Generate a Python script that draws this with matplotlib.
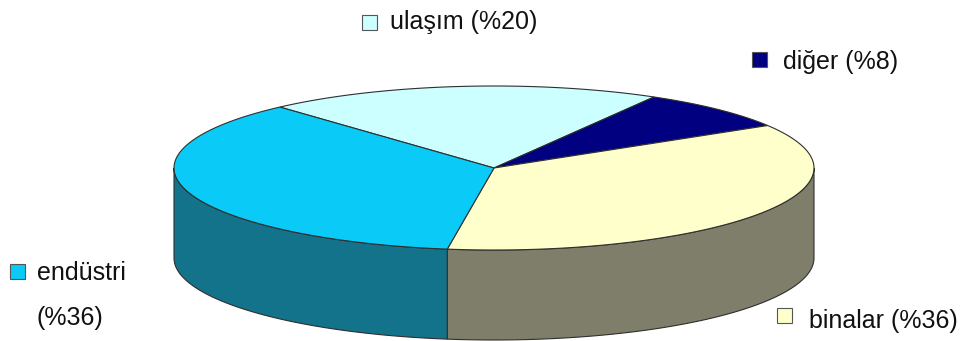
import numpy as np
import matplotlib
matplotlib.use('Agg')
import matplotlib.pyplot as plt
from matplotlib.patches import Polygon, Rectangle

# dados do grafico
rotulos = ['ulaşım', 'diğer', 'binalar', 'endüstri']
valores = [20, 8, 36, 36]
cores_topo = ['#CCFFFF', '#000080', '#FFFFCC', '#0ACBF8']
cores_lado = ['#6FA3A8', '#00004A', '#7E7E6B', '#12738A']

# geometria do pie 3d (pixels)
cx, cy = 494, 168
rx, ry = 320, 82
prof = 90
inicio = 132
borda = '#2f2f2f'

fig = plt.figure(figsize=(9.68, 3.41), dpi=100)
ax = fig.add_axes([0, 0, 1, 1])
ax.set_xlim(0, 968)
ax.set_ylim(341, 0)
ax.axis('off')


def ponto(t, dy=0):
    r = np.radians(t)
    return cx + rx * np.cos(r), cy - ry * np.sin(r) + dy


def arco(a, b, dy=0, n=120):
    ts = np.linspace(a, b, n)
    return [ponto(t, dy) for t in ts]


# angulos das fatias (sentido horario)
angulos = [inicio]
for v in valores:
    angulos.append(angulos[-1] - 360.0 * v / sum(valores))

# laterais (so a metade da frente aparece)
for i in range(len(valores)):
    a_fim, a_ini = angulos[i + 1], angulos[i]
    for k in (-720, -360, 0, 360):
        lo = max(a_fim, -180 + k)
        hi = min(a_ini, 0 + k)
        if hi > lo:
            topo = arco(lo, hi)
            baixo = arco(hi, lo, prof)
            ax.add_patch(Polygon(topo + baixo, closed=True, facecolor=cores_lado[i],
                                 edgecolor=borda, linewidth=0.8))

# topo das fatias
for i in range(len(valores)):
    pts = [(cx, cy)] + arco(angulos[i], angulos[i + 1])
    ax.add_patch(Polygon(pts, closed=True, facecolor=cores_topo[i],
                         edgecolor=borda, linewidth=0.8))

# legendas espalhadas
textos = ['ulaşım (%20)', 'diğer (%8)', 'binalar (%36)', 'endüstri\n(%36)']
pos_caixa = [(362, 15), (752, 52), (777, 308), (10, 264)]
pos_texto = [(390, 29), (783, 69), (809, 328), (37, 280)]
for i in range(len(textos)):
    bx, by = pos_caixa[i]
    ax.add_patch(Rectangle((bx, by), 15, 15, facecolor=cores_topo[i],
                           edgecolor='#555555', linewidth=0.8))
    tx, ty = pos_texto[i]
    for j, linha in enumerate(textos[i].split('\n')):
        ax.text(tx, ty + 45 * j, linha, fontsize=18, family='Liberation Sans',
                color='#111111', va='baseline', ha='left')

fig.savefig('out.png', dpi=100)
